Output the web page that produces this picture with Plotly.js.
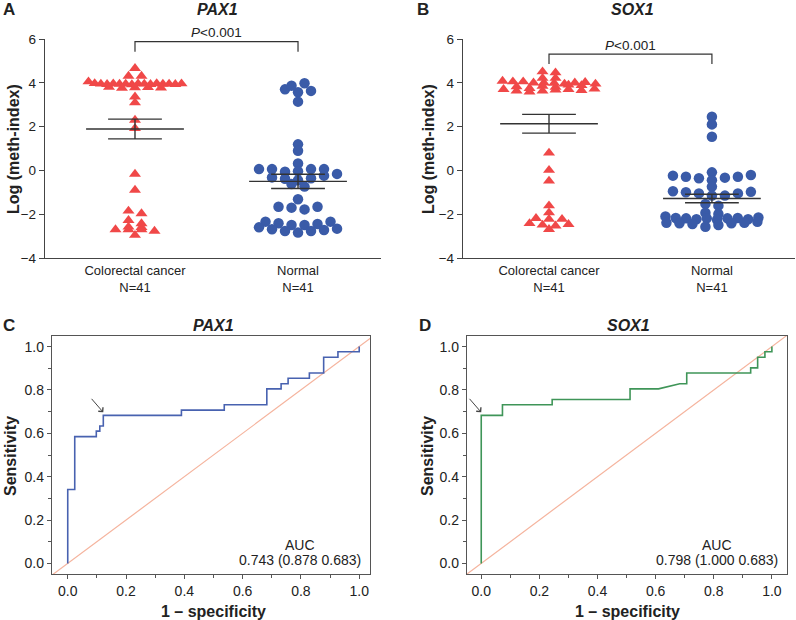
<!DOCTYPE html>
<html>
<head>
<meta charset="utf-8">
<script src="https://cdn.plot.ly/plotly-3.0.1.min.js"></script>
<style>html,body{margin:0;padding:0;background:#fff}#chart{width:796px;height:620px}</style>
</head>
<body>
<div id="chart"></div>
<script>
// ---------------- DATA ----------------
const groups = ['Colorectal cancer', 'Normal'];
const genes = ['PAX1', 'SOX1'];
const pLabel = 'P<0.001';

// Log (meth-index), PAX1
const pax1Cancer = [4.66, 4.31, 4.31, 4.05,
  3.97, 3.95, 3.93, 3.96, 3.94, 3.95, 3.92, 3.96, 3.95, 3.93, 3.97, 3.94, 3.95, 3.93, 3.96,
  3.80, 3.76, 3.78, 3.79, 3.77, 3.36, 3.09,
  2.30, 1.92, -0.17, -0.90, -1.85, -1.97, -2.28, -2.43, -2.58, -2.60, -2.70, -2.70, -2.70, -2.77, -2.96];
const pax1Normal = [3.70, 3.57, 3.87, 3.98, 3.63, 3.14, 1.19, 0.90,
  0.32, 0.06, 0.06, -0.06, -0.04, 0.06, 0.06, -0.16, -0.32, -0.38, -0.45, -0.36, -0.24, -0.62, -0.74,
  -1.32, -1.66, -1.70, -1.78, -1.66,
  -2.34, -2.41, -2.49, -2.49, -2.45, -2.34, -2.60, -2.69, -2.77, -2.84, -2.77, -2.72, -2.66];

// Log (meth-index), SOX1
const sox1Cancer = [4.51, 4.46, 4.21, 4.21, 4.08, 4.05, 4.05, 4.00, 4.00, 3.98, 3.95, 4.00, 4.02, 3.95,
  3.82, 3.70, 3.63, 3.59, 3.63, 3.68, 3.70, 3.75, 3.85, 3.80, 3.66, 3.90, 3.72, 3.88,
  0.80, 0.01, -0.48, -1.61, -1.93, -2.19, -2.23, -2.42, -2.49, -2.69, -2.53, -2.46, -2.23];
const sox1Normal = [2.45, 2.10, 1.54,
  -0.24, -0.29, -0.36, -0.09, -0.45, -0.74, -0.33, -0.29, -0.21,
  -0.95, -1.00, -1.05, -1.15, -1.15, -1.05, -0.98,
  -1.53, -1.61, -1.93, -1.99,
  -2.10, -2.17, -2.19, -2.23, -2.19, -2.25, -2.19, -2.17, -2.23, -2.15,
  -2.39, -2.41, -2.45, -2.57, -2.49, -2.41, -2.39, -2.35];

// ROC curves (1 - specificity, sensitivity)
const pax1RocFpr = [0, 0, 0.024, 0.024, 0.098, 0.098, 0.110, 0.110, 0.122, 0.122, 0.390, 0.390, 0.537, 0.537, 0.683, 0.683, 0.732, 0.732, 0.756, 0.756, 0.829, 0.829, 0.878, 0.878, 0.927, 0.927, 1.0, 1.0];
const pax1RocTpr = [0, 0.341, 0.341, 0.585, 0.585, 0.610, 0.610, 0.634, 0.634, 0.683, 0.683, 0.707, 0.707, 0.732, 0.732, 0.805, 0.805, 0.829, 0.829, 0.854, 0.854, 0.878, 0.878, 0.951, 0.951, 0.976, 0.976, 1.0];
const sox1RocFpr = [0, 0, 0.073, 0.073, 0.244, 0.244, 0.512, 0.512, 0.610, 0.683, 0.707, 0.707, 0.927, 0.927, 0.951, 0.951, 0.976, 0.976, 1.0, 1.0];
const sox1RocTpr = [0, 0.683, 0.683, 0.732, 0.732, 0.756, 0.756, 0.805, 0.805, 0.829, 0.829, 0.878, 0.878, 0.902, 0.902, 0.951, 0.951, 0.976, 0.976, 1.0];
const aucLabels = ['0.743 (0.878 0.683)', '0.798 (1.000 0.683)'];
const optimalPoint = [[0.122, 0.683], [0.0, 0.683]];

// ---------------- HELPERS ----------------
const W = 796, H = 620;
const FONT = "Arial, 'Liberation Sans', sans-serif";
const TXT = '#222';
const AX = '#444';
const px = v => v / W;
const py = v => 1 - v / H;

// Prism-like scatter: group nearby values into rows, spread each row symmetrically
function rowOffsets(vals, pxX, h, sMax, wMax) {
  const order = vals.map((v, i) => i).sort((a, b) => vals[a] - vals[b] || a - b);
  const off = new Array(vals.length);
  let row = [], start = null;
  const flush = () => {
    const n = row.length;
    const s = n > 1 ? Math.min(sMax, wMax / (n - 1)) : 0;
    row.slice().sort((a, b) => a - b).forEach((idx, k) => { off[idx] = (k - (n - 1) / 2) * s / pxX; });
    row = [];
  };
  for (const i of order) {
    if (row.length && vals[i] - start > h) flush();
    if (!row.length) start = vals[i];
    row.push(i);
  }
  flush();
  return off;
}
const mean = a => a.reduce((s, v) => s + v, 0) / a.length;
function sem(a) {
  const m = mean(a);
  const sd = Math.sqrt(a.reduce((s, v) => s + (v - m) ** 2, 0) / (a.length - 1));
  return sd / Math.sqrt(a.length);
}

const traces = [];
const PXX = 163;
function dotPanel(cancer, normal, xa, ya) {
  const sets = [cancer, normal];
  sets.forEach((vals, gi) => {
    const off = gi === 0 ? rowOffsets(vals, PXX, 0.16, 13, 93) : rowOffsets(vals, PXX, 0.25, 13, 93);
    traces.push({
      type: 'scatter', mode: 'markers', xaxis: xa, yaxis: ya,
      x: vals.map((v, i) => gi + off[i]), y: vals,
      marker: gi === 0
        ? { symbol: 'triangle-up', size: 10.5, color: '#f04848', line: { width: 0 } }
        : { symbol: 'circle', size: 10.5, color: '#3a5ba8', line: { width: 0 } },
      hoverinfo: 'skip'
    });
  });
  sets.forEach((vals, gi) => {
    const m = mean(vals), s = sem(vals);
    const lineStyle = { color: '#333', width: 1.4 };
    traces.push({ type: 'scatter', mode: 'lines', xaxis: xa, yaxis: ya,
      x: [gi - 0.3, gi + 0.3], y: [m, m], line: lineStyle, hoverinfo: 'skip' });
    traces.push({ type: 'scatter', mode: 'lines', xaxis: xa, yaxis: ya,
      x: [gi - 0.165, gi + 0.165, null, gi - 0.165, gi + 0.165, null, gi, gi],
      y: [m + s, m + s, null, m - s, m - s, null, m - s, m + s], line: lineStyle, hoverinfo: 'skip' });
  });
}
dotPanel(pax1Cancer, pax1Normal, 'x', 'y');
dotPanel(sox1Cancer, sox1Normal, 'x2', 'y2');

function rocPanel(fpr, tpr, color, xa, ya) {
  traces.push({ type: 'scatter', mode: 'lines', xaxis: xa, yaxis: ya,
    x: [-0.1, 1.1], y: [-0.1, 1.1], line: { color: '#f5b49e', width: 1.2 }, hoverinfo: 'skip' });
  traces.push({ type: 'scatter', mode: 'lines', xaxis: xa, yaxis: ya,
    x: fpr, y: tpr, line: { color: color, width: 1.6 }, hoverinfo: 'skip' });
}
rocPanel(pax1RocFpr, pax1RocTpr, '#4862b0', 'x3', 'y3');
rocPanel(sox1RocFpr, sox1RocTpr, '#3f9558', 'x4', 'y4');

// ---------------- AXES ----------------
const tickFont = { family: FONT, size: 13.5, color: TXT };
function catAxis(dom, range, anchor, a, b) {
  return { domain: dom, range: range, anchor: anchor, tickvals: [0, 1],
    ticktext: [groups[0] + '<br>N=' + a.length, groups[1] + '<br>N=' + b.length],
    showline: true, linecolor: AX, linewidth: 1.2, ticks: '', showgrid: false, zeroline: false,
    tickfont: { family: FONT, size: 13, color: TXT }, fixedrange: true };
}
function valAxis(dom, anchor) {
  return { domain: dom, range: [-4, 6], anchor: anchor, tickvals: [-4, -2, 0, 2, 4, 6],
    showline: true, linecolor: AX, linewidth: 1.2, ticks: 'outside', ticklen: 5, tickcolor: AX,
    showgrid: false, zeroline: false, tickfont: tickFont, fixedrange: true };
}
function rocX(dom, range, anchor) {
  return { domain: dom, range: range, anchor: anchor, dtick: 0.2, tick0: 0, tickformat: '.1f',
    showline: true, mirror: true, linecolor: '#555', linewidth: 1.2, ticks: 'outside', ticklen: 4, tickcolor: '#555',
    minor: { dtick: 0.1, ticks: 'outside', ticklen: 3, tickcolor: '#555', showgrid: false },
    showgrid: false, zeroline: false, tickfont: { family: FONT, size: 14, color: TXT }, fixedrange: true };
}

const layout = {
  width: W, height: H, margin: { l: 0, r: 0, t: 0, b: 0 },
  paper_bgcolor: '#fff', plot_bgcolor: '#fff', showlegend: false,
  font: { family: FONT, color: TXT },
  xaxis: catAxis([px(45), px(381)], [-0.552, 1.509], 'y', pax1Cancer, pax1Normal),
  yaxis: valAxis([py(258), py(39)], 'x'),
  xaxis2: catAxis([px(463), px(795)], [-0.528, 1.51], 'y2', sox1Cancer, sox1Normal),
  yaxis2: valAxis([py(258), py(39)], 'x2'),
  xaxis3: rocX([px(52), px(370)], [-0.054, 1.037], 'y3'),
  yaxis3: rocX([py(574), py(336)], [-0.049, 1.049], 'x3'),
  xaxis4: rocX([px(467), px(787)], [-0.049, 1.052], 'y4'),
  yaxis4: rocX([py(574), py(336)], [-0.049, 1.049], 'x4'),
  shapes: [],
  annotations: []
};

const ann = layout.annotations;
function label(text, x, y, size, opts) {
  ann.push(Object.assign({ xref: 'paper', yref: 'paper', x: px(x), y: py(y), text: text, showarrow: false,
    xanchor: 'center', yanchor: 'middle', font: { family: FONT, size: size, color: TXT } }, opts || {}));
}
// Panel letters
label('<b>A</b>', 9, 10, 17);
label('<b>B</b>', 423, 10, 17);
label('<b>C</b>', 9, 325, 17);
label('<b>D</b>', 425, 325, 17);
// Titles
label('<b><i>' + genes[0] + '</i></b>', 217, 10, 16);
label('<b><i>' + genes[1] + '</i></b>', 632, 10, 16);
label('<b><i>' + genes[0] + '</i></b>', 213, 325, 16);
label('<b><i>' + genes[1] + '</i></b>', 628, 325, 16);
// Axis titles
label('<b>Log (meth-index)</b>', 13, 149, 16, { textangle: -90 });
label('<b>Log (meth-index)</b>', 428, 149, 16, { textangle: -90 });
label('<b>Sensitivity</b>', 10, 456, 16, { textangle: -90 });
label('<b>Sensitivity</b>', 427, 456, 16, { textangle: -90 });
label('<b>1 – specificity</b>', 213, 611, 16);
label('<b>1 – specificity</b>', 627, 611, 16);
// P values with brackets
[['x', 'y', 5.88, 5.42], ['x2', 'y2', 5.31, 4.86]].forEach(([xa, ya, top, bot]) => {
  layout.shapes.push({ type: 'path', xref: xa, yref: ya,
    path: `M0,${bot} L0,${top} L1,${top} L1,${bot}`, line: { color: '#333', width: 1.2 } });
  ann.push({ xref: xa, yref: ya, x: 0.5, y: top, yshift: 9, text: '<i>P</i>' + pLabel.slice(1), showarrow: false,
    xanchor: 'center', yanchor: 'middle', font: { family: FONT, size: 13.5, color: TXT } });
});
// AUC text
[['x3', 'y3', 0.797], ['x4', 'y4', 0.81]].forEach(([xa, ya, xc], i) => {
  ann.push({ xref: xa, yref: ya, x: xc, y: 0.084, text: 'AUC', showarrow: false,
    xanchor: 'center', yanchor: 'middle', font: { family: FONT, size: 14, color: TXT } });
  ann.push({ xref: xa, yref: ya, x: xc, y: 0.015, text: aucLabels[i], showarrow: false,
    xanchor: 'center', yanchor: 'middle', font: { family: FONT, size: 14, color: TXT } });
  ann.push({ xref: xa, yref: ya, x: optimalPoint[i][0], y: optimalPoint[i][1], ax: -13, ay: -15,
    yshift: 3, text: '', showarrow: true, arrowhead: 4, arrowsize: 1.2, arrowwidth: 1, arrowcolor: '#444' });
});

Plotly.newPlot('chart', traces, layout, { staticPlot: true, displayModeBar: false });
</script>
</body>
</html>
